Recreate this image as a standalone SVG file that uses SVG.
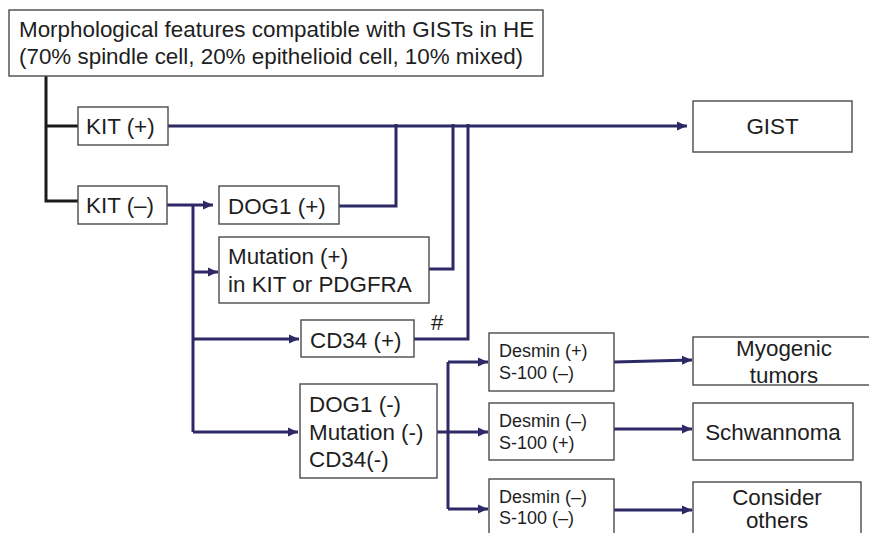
<svg xmlns="http://www.w3.org/2000/svg" width="869" height="533" viewBox="0 0 869 533">
  <style>
    .box { fill: #ffffff; stroke: #4a4a4a; stroke-width: 1.4; }
    .t { font-family: "Liberation Sans", Arial, sans-serif; font-size: 22.4px; fill: #1e1e1e; }
    .s { font-family: "Liberation Sans", Arial, sans-serif; font-size: 18px; fill: #1e1e1e; }
    .blk { fill: none; stroke: #1a1a1a; stroke-width: 3; }
    .ln { fill: none; stroke: #2c2966; stroke-width: 3; }
    .ar { fill: none; stroke: #2c2966; stroke-width: 3; marker-end: url(#head); }
  </style>
  <defs>
    <marker id="head" markerUnits="userSpaceOnUse" markerWidth="12" markerHeight="12" refX="10" refY="6" orient="auto">
      <path d="M0,1.5 L10,6 L0,10.5 Z" fill="#2c2966"/>
    </marker>
  </defs>
  <rect width="869" height="533" fill="#ffffff"/>

  <g id="connectors">
    <!-- root to KIT branches -->
    <path class="blk" d="M46,76 V201 H78 M46,126 H78"/>
    <!-- KIT(+) to GIST -->
    <path class="ar" d="M168,126 H687"/>
    <!-- positive results joining the GIST line -->
    <path class="ln" d="M339,206 H396 V124"/>
    <path class="ln" d="M429,269 H453 V124"/>
    <path class="ln" d="M414,339 H468 V124"/>
    <!-- KIT(-) branches -->
    <path class="ar" d="M167,205 H213"/>
    <path class="ln" d="M193,205 V432"/>
    <path class="ar" d="M193,272 H218"/>
    <path class="ar" d="M193,339 H299"/>
    <path class="ar" d="M193,432 H298"/>
    <!-- negative panel branches -->
    <path class="ln" d="M437,432 H448"/>
    <path class="ln" d="M448,362 V509"/>
    <path class="ar" d="M448,362 H488"/>
    <path class="ar" d="M448,432 H488"/>
    <path class="ar" d="M448,509 H488"/>
    <!-- immunoprofiles to diagnoses -->
    <path class="ar" d="M614,362 L692,360"/>
    <path class="ar" d="M614,429 H692"/>
    <path class="ar" d="M614,510 H692"/>
    <text class="t" x="431" y="330">#</text>
  </g>

  <g id="root">
    <rect class="box" x="9" y="10" width="534" height="66"/>
    <text class="t" x="19" y="37">Morphological features compatible with GISTs in HE</text>
    <text class="t" x="19" y="64">(70% spindle cell, 20% epithelioid cell, 10% mixed)</text>
  </g>
  <g id="kit-pos">
    <rect class="box" x="78" y="107" width="90" height="38"/>
    <text class="t" x="86" y="134">KIT (+)</text>
  </g>
  <g id="kit-neg">
    <rect class="box" x="78" y="186" width="89" height="38"/>
    <text class="t" x="86" y="213">KIT (–)</text>
  </g>
  <g id="gist">
    <rect class="box" x="693" y="101" width="159" height="51"/>
    <text class="t" x="772.5" y="134" text-anchor="middle">GIST</text>
  </g>
  <g id="dog1-pos">
    <rect class="box" x="219" y="186" width="120" height="38"/>
    <text class="t" x="228" y="214">DOG1 (+)</text>
  </g>
  <g id="mutation-pos">
    <rect class="box" x="219" y="237" width="210" height="66"/>
    <text class="t" x="228" y="264">Mutation (+)</text>
    <text class="t" x="228" y="292">in KIT or PDGFRA</text>
  </g>
  <g id="cd34-pos">
    <rect class="box" x="301" y="320" width="113" height="37"/>
    <text class="t" x="310" y="348">CD34 (+)</text>
  </g>
  <g id="all-neg">
    <rect class="box" x="300" y="384" width="137" height="94"/>
    <text class="t" x="309" y="412">DOG1 (-)</text>
    <text class="t" x="309" y="440">Mutation (-)</text>
    <text class="t" x="309" y="467">CD34(-)</text>
  </g>
  <g id="desmin-pos">
    <rect class="box" x="489" y="333" width="125" height="58"/>
    <text class="s" x="499" y="357">Desmin (+)</text>
    <text class="s" x="499" y="379">S-100 (–)</text>
  </g>
  <g id="s100-pos">
    <rect class="box" x="489" y="403" width="125" height="57"/>
    <text class="s" x="499" y="427">Desmin (–)</text>
    <text class="s" x="499" y="449">S-100 (+)</text>
  </g>
  <g id="both-neg">
    <rect class="box" x="489" y="479" width="125" height="60"/>
    <text class="s" x="499" y="503">Desmin (–)</text>
    <text class="s" x="499" y="524">S-100 (–)</text>
  </g>
  <g id="myogenic">
    <rect class="box" x="693" y="337" width="180" height="48"/>
    <text class="t" x="784" y="356" text-anchor="middle">Myogenic</text>
    <text class="t" x="784" y="383" text-anchor="middle">tumors</text>
  </g>
  <g id="schwannoma">
    <rect class="box" x="693" y="403" width="160" height="57"/>
    <text class="t" x="773" y="440" text-anchor="middle">Schwannoma</text>
  </g>
  <g id="others">
    <rect class="box" x="693" y="482" width="168" height="60"/>
    <text class="t" x="777" y="505" text-anchor="middle">Consider</text>
    <text class="t" x="777" y="528" text-anchor="middle">others</text>
  </g>
</svg>
